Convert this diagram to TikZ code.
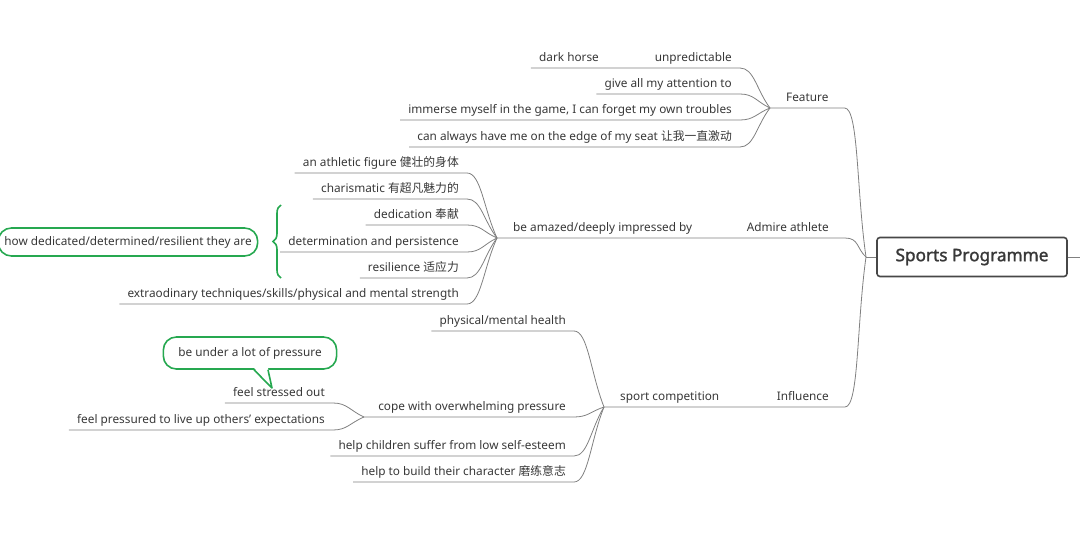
\documentclass[tikz,border=0pt]{standalone}
\usepackage{fontspec}
\setmainfont{Noto Sans}
\newfontfamily\zhfont{Noto Sans CJK SC}
\newfontfamily\rootfont{Noto Sans}[FakeBold=1.6]
\usepackage{tikz}
\usetikzlibrary{calc}
\usetikzlibrary{decorations.pathreplacing}
\newcommand\zh[1]{{\zhfont #1}}
\newcommand\leaffont{\fontsize{11.8}{14}\selectfont}
\definecolor{xgreen}{RGB}{38,168,80}
\colorlet{linkcolor}{black!50}
\colorlet{textcolor}{black!78}
\tikzstyle{leaf}=[anchor=south east,inner xsep=8pt,inner ysep=3pt,text depth=3pt,font=\leaffont,text=textcolor]
\tikzstyle{topic}=[leaf,inner xsep=16pt]
\tikzstyle{branch}=[draw=linkcolor,line width=.8pt]
\tikzstyle{link}=[to path={.. controls +(14,0) and ($(\tikztotarget)!.45!(\tikztostart)$) .. (\tikztotarget)}]
\tikzstyle{root}=[draw=black!72,line width=1.6pt,rounded corners=3pt,minimum width=190pt,minimum height=39pt,font=\fontsize{17.2}{20}\rootfont,text=black!78]
\tikzstyle{note}=[draw=xgreen,line width=1.6pt,rounded corners=13pt,minimum height=28pt,inner xsep=8pt,font=\leaffont,text=textcolor]
\tikzstyle{bracket}=[draw=xgreen,line width=1.6pt,decorate,decoration={brace,amplitude=8pt}]

\begin{document}
\begin{tikzpicture}[x=1pt,y=-1pt]
\useasboundingbox (0,0) rectangle (1080,546);
% root
\node[root] (sp) at (972,257) {Sports Programme};
\coordinate (hub) at (866,257);
\coordinate (edge) at (1092,257);
\draw[branch] (hub) -- (sp.west);
\draw[branch] (sp.east) -- (edge);
% main topics
\coordinate (fj) at (770,108);
\coordinate (aj) at (497,238);
\coordinate (sj) at (604,407);
\node[topic,anchor=south west] (feat) at (fj) {Feature};
\node[topic] (adm) at (845,238) {Admire athlete};
\node[topic,anchor=south west] (amz) at (aj) {be amazed/deeply impressed by};
\node[topic] (inf) at (845,407) {Influence};
\node[topic,anchor=south west] (spc) at (sj) {sport competition};
\draw[branch] (fj) -- (feat.south east) to[link] (hub);
\draw[branch] (aj) -- (adm.south east) to[link] (hub);
\draw[branch] (sj) -- (inf.south east) to[link] (hub);
% Feature
\node[leaf] (f1) at (740,68) {dark horse\hspace{56pt}unpredictable};
\node[leaf] (f2) at (740,94) {give all my attention to};
\node[leaf] (f3) at (740,120) {immerse myself in the game, I can forget my own troubles};
\node[leaf] (f4) at (740,147) {can always have me on the edge of my seat \zh{让我一直激动}};
\foreach \n in {f1,f2,f3,f4}
  \draw[branch] (\n.south west) -- (\n.south east) to[link] (fj);
% Admire athlete
\node[leaf] (a1) at (467,173) {an athletic figure \zh{健壮的身体}};
\node[leaf] (a2) at (467,199) {charismatic \zh{有超凡魅力的}};
\node[leaf] (a3) at (467,225) {dedication \zh{奉献}};
\node[leaf] (a4) at (467,252) {determination and persistence};
\node[leaf] (a5) at (467,278) {resilience \zh{适应力}};
\node[leaf] (a6) at (467,304) {extraodinary techniques/skills/physical and mental strength};
\foreach \n in {a1,a2,a3,a4,a5,a6}
  \draw[branch] (\n.south west) -- (\n.south east) to[link] (aj);
\coordinate (bt) at (281,205);
\coordinate (bb) at (281,278);
\draw[bracket] (bb) -- (bt);
\node[note,inner xsep=6pt] (how) at (128,242) {how dedicated/determined/resilient they are};
% Influence
\coordinate (cj) at (364,417);
\node[leaf] (s1) at (574,331) {physical/mental health};
\node[leaf] (s2) at (574,417) {cope with overwhelming pressure};
\node[leaf] (s3) at (574,456) {help children suffer from low self-esteem};
\node[leaf] (s4) at (574,482) {help to build their character \zh{磨练意志}};
\draw[branch] (s1.south west) -- (s1.south east) to[link] (sj);
\draw[branch] (cj) -- (s2.south east) to[link] (sj);
\draw[branch] (s3.south west) -- (s3.south east) to[link] (sj);
\draw[branch] (s4.south west) -- (s4.south east) to[link] (sj);
\node[leaf] (c1) at (333,403) {feel stressed out};
\node[leaf] (c2) at (333,430) {feel pressured to live up others' expectations};
\foreach \n in {c1,c2}
  \draw[branch] (\n.south west) -- (\n.south east) to[link] (cj);
% callout
\node[note,minimum height=32pt,inner xsep=15pt] (prs) at (250,353) {be under a lot of pressure};
\coordinate (tip) at (272,388);
\fill[white] ($(prs.south)+(4,-2)$) -- (tip) -- ($(prs.south)+(18,-2)$) -- cycle;
\draw[draw=xgreen,line width=1.6pt,line join=round] ($(prs.south)+(4,0)$) -- (tip) -- ($(prs.south)+(18,0)$);
\end{tikzpicture}
\end{document}
